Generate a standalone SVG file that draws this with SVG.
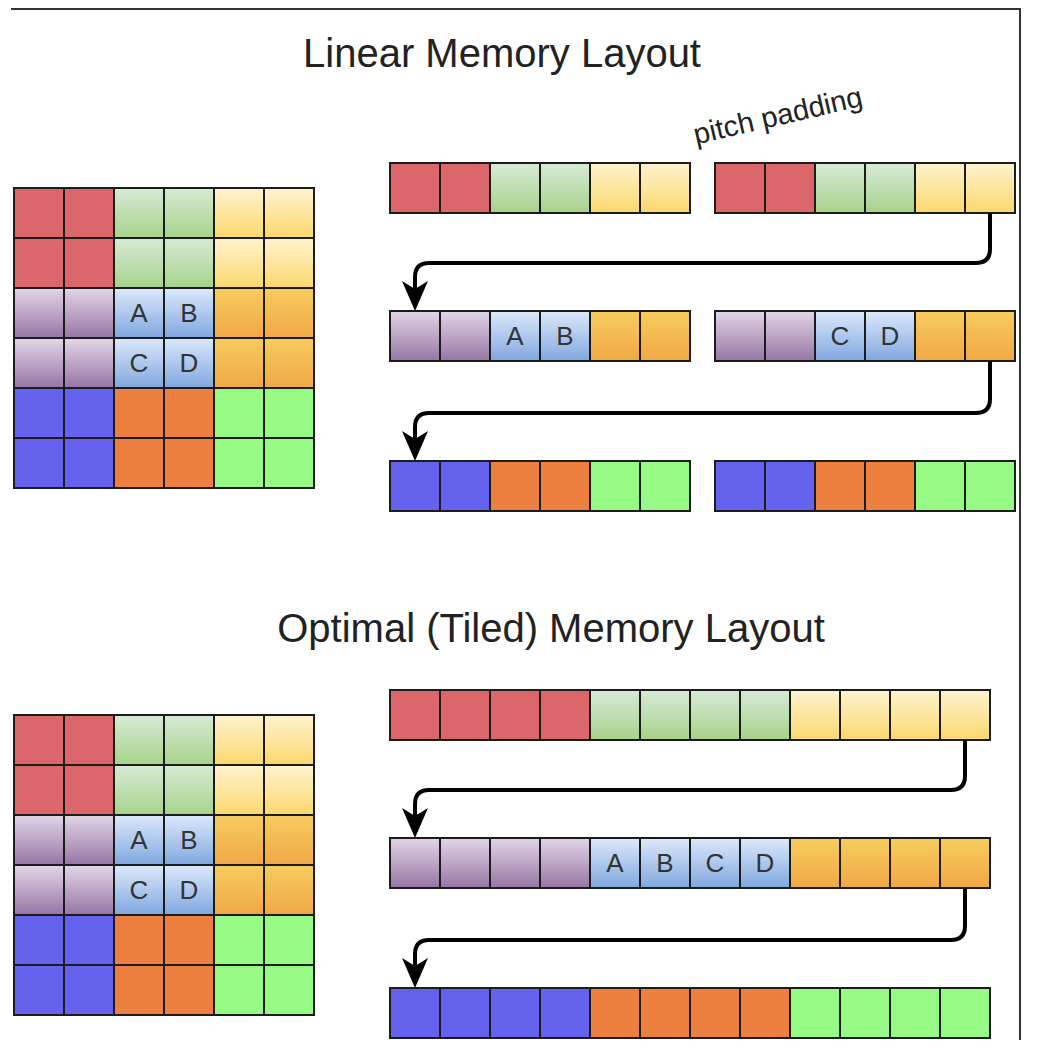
<svg xmlns="http://www.w3.org/2000/svg" width="1040" height="1062" viewBox="0 0 1040 1062">
<defs>
<linearGradient id="gG" x1="0" y1="0" x2="0" y2="1"><stop offset="0" stop-color="#d8ead6"/><stop offset="1" stop-color="#a6d38a"/></linearGradient>
<linearGradient id="gY" x1="0" y1="0" x2="0" y2="1"><stop offset="0" stop-color="#fff3d0"/><stop offset="1" stop-color="#fbd86c"/></linearGradient>
<linearGradient id="gP" x1="0" y1="0" x2="0" y2="1"><stop offset="0" stop-color="#e2d6e8"/><stop offset="1" stop-color="#9775a6"/></linearGradient>
<linearGradient id="gL" x1="0" y1="0" x2="0" y2="1"><stop offset="0" stop-color="#dce9fb"/><stop offset="1" stop-color="#80a7df"/></linearGradient>
<linearGradient id="gO" x1="0" y1="0" x2="0" y2="1"><stop offset="0" stop-color="#f8cc5e"/><stop offset="1" stop-color="#f0a845"/></linearGradient>
<marker id="ah" markerUnits="userSpaceOnUse" markerWidth="30" markerHeight="26" viewBox="0 0 30 26" refX="22" refY="13" orient="auto">
<path d="M0,0 L30,13 L0,26 L8,13 Z" fill="#000"/>
</marker>
<style>
rect{stroke:#1c1c1c;stroke-width:2;width:50px;height:50px}
.r{fill:#dc676b}.g{fill:url(#gG)}.y{fill:url(#gY)}.p{fill:url(#gP)}.l{fill:url(#gL)}.o{fill:url(#gO)}
.b{fill:#6563ee}.n{fill:#ed7f40}.e{fill:#97fa85}
.t{font-family:"Liberation Sans",Arial,sans-serif;fill:#222}
.c{font-family:"Liberation Sans",Arial,sans-serif;font-size:26px;fill:#333;text-anchor:middle}
.a{fill:none;stroke:#000;stroke-width:4;stroke-linejoin:round}
</style>
</defs>
<rect x="0" y="0" width="1040" height="1062" style="fill:#fff;stroke:none;width:1040px;height:1062px"/>
<path d="M11,9 H1020 V1040" fill="none" stroke="#333" stroke-width="2"/>
<text class="t" x="502" y="67" font-size="40" text-anchor="middle">Linear Memory Layout</text>
<text class="t" x="551" y="642" font-size="40" text-anchor="middle">Optimal (Tiled) Memory Layout</text>
<text class="t" x="0" y="0" font-size="29" text-anchor="middle" fill="#333" transform="translate(780,125) rotate(-13)">pitch padding</text>

<g id="grid-linear" transform="translate(14,188)">
<rect class="r" x="0" y="0"/><rect class="r" x="50" y="0"/><rect class="g" x="100" y="0"/><rect class="g" x="150" y="0"/><rect class="y" x="200" y="0"/><rect class="y" x="250" y="0"/>
<rect class="r" x="0" y="50"/><rect class="r" x="50" y="50"/><rect class="g" x="100" y="50"/><rect class="g" x="150" y="50"/><rect class="y" x="200" y="50"/><rect class="y" x="250" y="50"/>
<rect class="p" x="0" y="100"/><rect class="p" x="50" y="100"/><rect class="l" x="100" y="100"/><rect class="l" x="150" y="100"/><rect class="o" x="200" y="100"/><rect class="o" x="250" y="100"/>
<rect class="p" x="0" y="150"/><rect class="p" x="50" y="150"/><rect class="l" x="100" y="150"/><rect class="l" x="150" y="150"/><rect class="o" x="200" y="150"/><rect class="o" x="250" y="150"/>
<rect class="b" x="0" y="200"/><rect class="b" x="50" y="200"/><rect class="n" x="100" y="200"/><rect class="n" x="150" y="200"/><rect class="e" x="200" y="200"/><rect class="e" x="250" y="200"/>
<rect class="b" x="0" y="250"/><rect class="b" x="50" y="250"/><rect class="n" x="100" y="250"/><rect class="n" x="150" y="250"/><rect class="e" x="200" y="250"/><rect class="e" x="250" y="250"/>
<text class="c" x="125" y="134">A</text><text class="c" x="175" y="134">B</text><text class="c" x="125" y="184">C</text><text class="c" x="175" y="184">D</text>
</g>

<g id="grid-tiled" transform="translate(14,715)">
<rect class="r" x="0" y="0"/><rect class="r" x="50" y="0"/><rect class="g" x="100" y="0"/><rect class="g" x="150" y="0"/><rect class="y" x="200" y="0"/><rect class="y" x="250" y="0"/>
<rect class="r" x="0" y="50"/><rect class="r" x="50" y="50"/><rect class="g" x="100" y="50"/><rect class="g" x="150" y="50"/><rect class="y" x="200" y="50"/><rect class="y" x="250" y="50"/>
<rect class="p" x="0" y="100"/><rect class="p" x="50" y="100"/><rect class="l" x="100" y="100"/><rect class="l" x="150" y="100"/><rect class="o" x="200" y="100"/><rect class="o" x="250" y="100"/>
<rect class="p" x="0" y="150"/><rect class="p" x="50" y="150"/><rect class="l" x="100" y="150"/><rect class="l" x="150" y="150"/><rect class="o" x="200" y="150"/><rect class="o" x="250" y="150"/>
<rect class="b" x="0" y="200"/><rect class="b" x="50" y="200"/><rect class="n" x="100" y="200"/><rect class="n" x="150" y="200"/><rect class="e" x="200" y="200"/><rect class="e" x="250" y="200"/>
<rect class="b" x="0" y="250"/><rect class="b" x="50" y="250"/><rect class="n" x="100" y="250"/><rect class="n" x="150" y="250"/><rect class="e" x="200" y="250"/><rect class="e" x="250" y="250"/>
<text class="c" x="125" y="134">A</text><text class="c" x="175" y="134">B</text><text class="c" x="125" y="184">C</text><text class="c" x="175" y="184">D</text>
</g>

<g id="lin-row1a" transform="translate(390,163)">
<rect class="r" x="0" y="0"/><rect class="r" x="50" y="0"/><rect class="g" x="100" y="0"/><rect class="g" x="150" y="0"/><rect class="y" x="200" y="0"/><rect class="y" x="250" y="0"/>
</g>
<g id="lin-row1b" transform="translate(715,163)">
<rect class="r" x="0" y="0"/><rect class="r" x="50" y="0"/><rect class="g" x="100" y="0"/><rect class="g" x="150" y="0"/><rect class="y" x="200" y="0"/><rect class="y" x="250" y="0"/>
</g>
<g id="lin-row2a" transform="translate(390,311)">
<rect class="p" x="0" y="0"/><rect class="p" x="50" y="0"/><rect class="l" x="100" y="0"/><rect class="l" x="150" y="0"/><rect class="o" x="200" y="0"/><rect class="o" x="250" y="0"/>
<text class="c" x="125" y="34">A</text><text class="c" x="175" y="34">B</text>
</g>
<g id="lin-row2b" transform="translate(715,311)">
<rect class="p" x="0" y="0"/><rect class="p" x="50" y="0"/><rect class="l" x="100" y="0"/><rect class="l" x="150" y="0"/><rect class="o" x="200" y="0"/><rect class="o" x="250" y="0"/>
<text class="c" x="125" y="34">C</text><text class="c" x="175" y="34">D</text>
</g>
<g id="lin-row3a" transform="translate(390,461)">
<rect class="b" x="0" y="0"/><rect class="b" x="50" y="0"/><rect class="n" x="100" y="0"/><rect class="n" x="150" y="0"/><rect class="e" x="200" y="0"/><rect class="e" x="250" y="0"/>
</g>
<g id="lin-row3b" transform="translate(715,461)">
<rect class="b" x="0" y="0"/><rect class="b" x="50" y="0"/><rect class="n" x="100" y="0"/><rect class="n" x="150" y="0"/><rect class="e" x="200" y="0"/><rect class="e" x="250" y="0"/>
</g>

<g id="tiled-row1" transform="translate(390,690)">
<rect class="r" x="0" y="0"/><rect class="r" x="50" y="0"/><rect class="r" x="100" y="0"/><rect class="r" x="150" y="0"/>
<rect class="g" x="200" y="0"/><rect class="g" x="250" y="0"/><rect class="g" x="300" y="0"/><rect class="g" x="350" y="0"/>
<rect class="y" x="400" y="0"/><rect class="y" x="450" y="0"/><rect class="y" x="500" y="0"/><rect class="y" x="550" y="0"/>
</g>
<g id="tiled-row2" transform="translate(390,838)">
<rect class="p" x="0" y="0"/><rect class="p" x="50" y="0"/><rect class="p" x="100" y="0"/><rect class="p" x="150" y="0"/>
<rect class="l" x="200" y="0"/><rect class="l" x="250" y="0"/><rect class="l" x="300" y="0"/><rect class="l" x="350" y="0"/>
<rect class="o" x="400" y="0"/><rect class="o" x="450" y="0"/><rect class="o" x="500" y="0"/><rect class="o" x="550" y="0"/>
<text class="c" x="225" y="34">A</text><text class="c" x="275" y="34">B</text><text class="c" x="325" y="34">C</text><text class="c" x="375" y="34">D</text>
</g>
<g id="tiled-row3" transform="translate(390,988)">
<rect class="b" x="0" y="0"/><rect class="b" x="50" y="0"/><rect class="b" x="100" y="0"/><rect class="b" x="150" y="0"/>
<rect class="n" x="200" y="0"/><rect class="n" x="250" y="0"/><rect class="n" x="300" y="0"/><rect class="n" x="350" y="0"/>
<rect class="e" x="400" y="0"/><rect class="e" x="450" y="0"/><rect class="e" x="500" y="0"/><rect class="e" x="550" y="0"/>
</g>

<g id="connectors">
<path class="a" marker-end="url(#ah)" d="M990,213 V249 Q990,263 976,263 H429 Q415,263 415,277 V303"/>
<path class="a" marker-end="url(#ah)" d="M990,361 V399 Q990,413 976,413 H429 Q415,413 415,427 V453"/>
<path class="a" marker-end="url(#ah)" d="M965,740 V776 Q965,790 951,790 H429 Q415,790 415,804 V830"/>
<path class="a" marker-end="url(#ah)" d="M965,888 V926 Q965,940 951,940 H429 Q415,940 415,954 V980"/>
</g>
</svg>
